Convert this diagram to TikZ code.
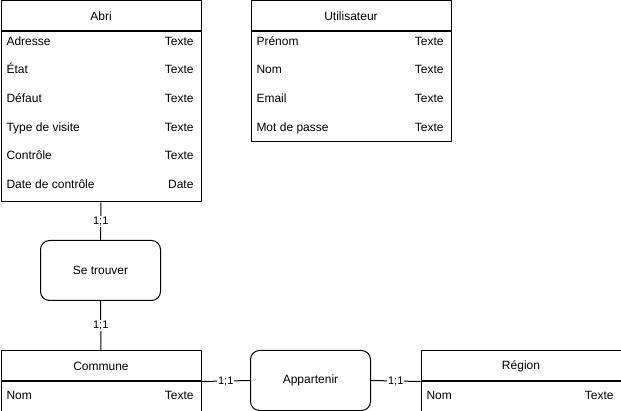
\documentclass[tikz,border=0pt]{standalone}
\usepackage{fontspec}
\setmainfont{Liberation Sans}
\usetikzlibrary{positioning}

\tikzset{
  entete/.style = {draw, minimum width=200pt, minimum height=30pt, inner sep=0pt, anchor=north west},
  corps/.style = {draw, minimum width=200pt, inner sep=0pt},
  champ/.style = {anchor=base west, inner sep=0pt},
  typechamp/.style = {anchor=base east, inner sep=0pt},
  relation/.style = {draw, rounded corners=9pt, minimum width=120pt, minimum height=60pt, inner sep=0pt},
  card/.style = {fill=white, inner sep=1pt, font=\fontsize{11}{12}\selectfont}
}

\begin{document}
\begin{tikzpicture}[x=1pt, y=-1pt, line width=1pt, font=\fontsize{12}{14}\selectfont]
    \useasboundingbox (0,0) rectangle (621,411);

    % entites
    \node[entete] (abri-titre) at (0.5,0.5) {Abri};
    \node[corps, minimum height=170pt, below=0pt of abri-titre] (abri) {};
    \foreach \nom/\type [count=\i] in {Adresse/Texte, État/Texte, Défaut/Texte,
        Type de visite/Texte, Contrôle/Texte, Date de contrôle/Date}
    {
        \node[champ] (abri-n\i) at (6, {45.3+28.6*(\i-1)}) {\nom};
        \node[typechamp] (abri-t\i) at (194, {45.3+28.6*(\i-1)}) {\type};
    }

    \node[entete] (utilisateur-titre) at (250.5,0.5) {Utilisateur};
    \node[corps, minimum height=110pt, below=0pt of utilisateur-titre] (utilisateur) {};
    \foreach \nom/\type [count=\i] in {Prénom/Texte, Nom/Texte, Email/Texte, Mot de passe/Texte}
    {
        \node[champ] (utilisateur-n\i) at (256, {45.3+28.6*(\i-1)}) {\nom};
        \node[typechamp] (utilisateur-t\i) at (444, {45.3+28.6*(\i-1)}) {\type};
    }

    \node[entete] (commune-titre) at (0.5,350.5) {Commune};
    \node[corps, minimum height=30pt, below=0pt of commune-titre] (commune) {};
    \node[champ] (commune-n1) at (6,399.3) {Nom};
    \node[typechamp] (commune-t1) at (194,399.3) {Texte};

    \node[entete] (region-titre) at (420.5,350.5) {Région};
    \node[corps, minimum height=30pt, below=0pt of region-titre] (region) {};
    \node[champ] (region-n1) at (426,399.3) {Nom};
    \node[typechamp] (region-t1) at (614,399.3) {Texte};

    % associations
    \node[relation] (setrouver) at (100.5,270.5) {Se trouver};
    \node[relation] (appartenir) at (310.5,380.5) {Appartenir};

    \draw (abri.south) -- node[card] {1;1} (setrouver.north);
    \draw (setrouver.south) -- node[card] {1;1} (commune-titre.north);
    \draw (commune-titre.south east) -- node[card] {1;1} (appartenir.west);
    \draw (appartenir.east) -- node[card] {1;1} (region-titre.south west);
\end{tikzpicture}
\end{document}
